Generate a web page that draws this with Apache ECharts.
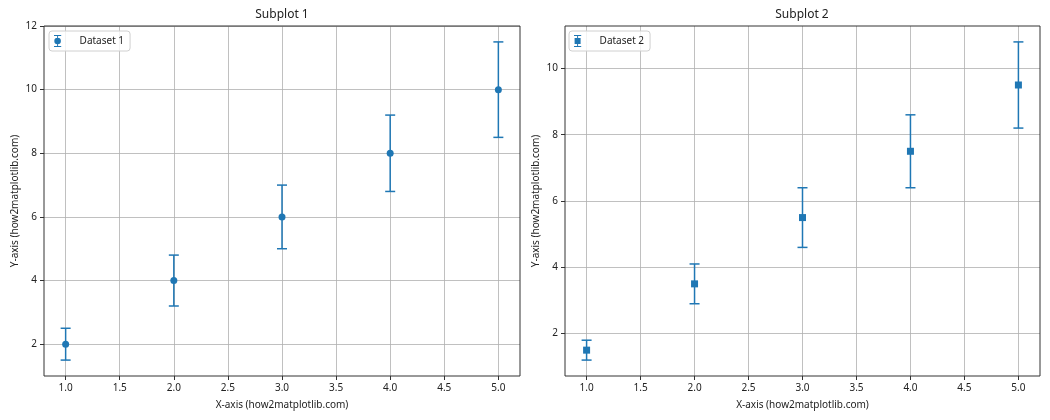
<!DOCTYPE html>
<html>
<head>
<meta charset="utf-8">
<script src="https://cdn.jsdelivr.net/npm/echarts@6/dist/echarts.min.js"></script>
<style>html,body{margin:0;padding:0;background:#fff}#c{width:1050px;height:420px}</style>
</head>
<body>
<div id="c"></div>
<script>
// ---- data ----
const xValues = [1, 2, 3, 4, 5];
const y1 = [2, 4, 6, 8, 10];
const err1 = [0.5, 0.8, 1.0, 1.2, 1.5];
const y2 = [1.5, 3.5, 5.5, 7.5, 9.5];
const err2 = [0.3, 0.6, 0.9, 1.1, 1.3];
const xTicks = [1.0, 1.5, 2.0, 2.5, 3.0, 3.5, 4.0, 4.5, 5.0];
const yTicks1 = [2, 4, 6, 8, 10, 12];
const yTicks2 = [2, 4, 6, 8, 10];
const titles = ['Subplot 1', 'Subplot 2'];
const seriesNames = ['Dataset 1', 'Dataset 2'];
const xName = 'X-axis (how2matplotlib.com)';
const yName = 'Y-axis (how2matplotlib.com)';

const C = '#1f77b4';
const FONT = 'Noto Sans';
const TXT = '#222';

const iconCircle = 'path://M4,0 H16 V1.6 H4 Z M9.2,1.6 H10.8 V5 H9.2 Z M10,4.5 A5.5,5.5 0 1 1 9.99,4.5 Z M9.2,15 H10.8 V18.4 H9.2 Z M4,18.4 H16 V20 H4 Z';
const iconSquare = 'path://M4,0 H16 V1.6 H4 Z M9.2,1.6 H10.8 V5 H9.2 Z M5,5 H15 V15 H5 Z M9.2,15 H10.8 V18.4 H9.2 Z M4,18.4 H16 V20 H4 Z';

function xAxisCfg(gi) {
  return {
    type: 'value', gridIndex: gi, min: 0.8, max: 5.2,
    name: xName, nameLocation: 'middle', nameGap: 24,
    nameTextStyle: { fontFamily: FONT, fontSize: 10, color: TXT },
    axisLine: { show: false, onZero: false },
    axisTick: { show: true, length: 4, customValues: xTicks, lineStyle: { color: '#333' } },
    axisLabel: { customValues: xTicks, margin: 7, fontFamily: FONT, fontSize: 10, color: TXT,
      formatter: v => v.toFixed(1) },
    splitLine: { show: true, lineStyle: { color: '#b0b0b0', width: 0.8 } }
  };
}
function yAxisCfg(gi, min, max, ticks) {
  return {
    type: 'value', gridIndex: gi, min: min, max: max,
    name: yName, nameLocation: 'middle', nameGap: 24,
    nameTextStyle: { fontFamily: FONT, fontSize: 10, color: TXT },
    axisLine: { show: false, onZero: false },
    axisTick: { show: true, length: 4, customValues: ticks, lineStyle: { color: '#333' } },
    axisLabel: { customValues: ticks, margin: 7, fontFamily: FONT, fontSize: 10, color: TXT,
      formatter: v => String(v) },
    splitLine: { show: true, lineStyle: { color: '#b0b0b0', width: 0.8 } }
  };
}

function errRender(params, api) {
  const x = api.value(0), y = api.value(1), e = api.value(2);
  const top = api.coord([x, y + e]);
  const bot = api.coord([x, y - e]);
  const cw = 5;
  const st = { stroke: C, lineWidth: 1.5 };
  return {
    type: 'group',
    children: [
      { type: 'line', shape: { x1: top[0], y1: top[1], x2: bot[0], y2: bot[1] }, style: st },
      { type: 'line', shape: { x1: top[0] - cw, y1: top[1], x2: top[0] + cw, y2: top[1] }, style: st },
      { type: 'line', shape: { x1: bot[0] - cw, y1: bot[1], x2: bot[0] + cw, y2: bot[1] }, style: st }
    ]
  };
}

const chart = echarts.init(document.getElementById('c'), null, { renderer: 'canvas' });
chart.setOption({
  animation: false,
  backgroundColor: '#fff',
  textStyle: { fontFamily: FONT },
  graphic: [
    { type: 'text', x: 282, y: 9, z: 10, style: { text: titles[0], textAlign: 'center', fontFamily: FONT, fontSize: 12, fill: TXT } },
    { type: 'text', x: 802, y: 9, z: 10, style: { text: titles[1], textAlign: 'center', fontFamily: FONT, fontSize: 12, fill: TXT } }
  ],
  grid: [
    { left: 44, top: 26, width: 476, height: 350, show: true, borderColor: '#333', borderWidth: 1, backgroundColor: 'transparent', z: 5 },
    { left: 565, top: 26, width: 475, height: 350, show: true, borderColor: '#333', borderWidth: 1, backgroundColor: 'transparent', z: 5 }
  ],
  legend: [
    { left: 49, top: 31, orient: 'vertical', padding: [4, 6, 4, 5], itemWidth: 14, itemHeight: 12,
      borderColor: '#d0d0d0', borderWidth: 1, borderRadius: 3, backgroundColor: 'rgba(255,255,255,0.8)',
      textStyle: { fontFamily: FONT, fontSize: 10, color: TXT, padding: [0, 0, 0, 10] },
      data: [{ name: seriesNames[0], icon: iconCircle, itemStyle: { color: C } }] },
    { left: 569, top: 31, orient: 'vertical', padding: [4, 6, 4, 5], itemWidth: 14, itemHeight: 12,
      borderColor: '#d0d0d0', borderWidth: 1, borderRadius: 3, backgroundColor: 'rgba(255,255,255,0.8)',
      textStyle: { fontFamily: FONT, fontSize: 10, color: TXT, padding: [0, 0, 0, 10] },
      data: [{ name: seriesNames[1], icon: iconSquare, itemStyle: { color: C } }] }
  ],
  xAxis: [xAxisCfg(0), xAxisCfg(1)],
  yAxis: [yAxisCfg(0, 1.0, 12.0, yTicks1), yAxisCfg(1, 0.72, 11.28, yTicks2)],
  series: [
    { type: 'custom', name: seriesNames[0], xAxisIndex: 0, yAxisIndex: 0, renderItem: errRender,
      data: xValues.map((x, i) => [x, y1[i], err1[i]]), itemStyle: { color: C }, z: 2 },
    { type: 'scatter', name: seriesNames[0], xAxisIndex: 0, yAxisIndex: 0, symbol: 'circle', symbolSize: 7,
      data: xValues.map((x, i) => [x, y1[i]]), itemStyle: { color: C, opacity: 1 }, z: 3 },
    { type: 'custom', name: seriesNames[1], xAxisIndex: 1, yAxisIndex: 1, renderItem: errRender,
      data: xValues.map((x, i) => [x, y2[i], err2[i]]), itemStyle: { color: C }, z: 2 },
    { type: 'scatter', name: seriesNames[1], xAxisIndex: 1, yAxisIndex: 1, symbol: 'rect', symbolSize: 7,
      data: xValues.map((x, i) => [x, y2[i]]), itemStyle: { color: C, opacity: 1 }, z: 3 }
  ]
});
</script>
</body>
</html>
